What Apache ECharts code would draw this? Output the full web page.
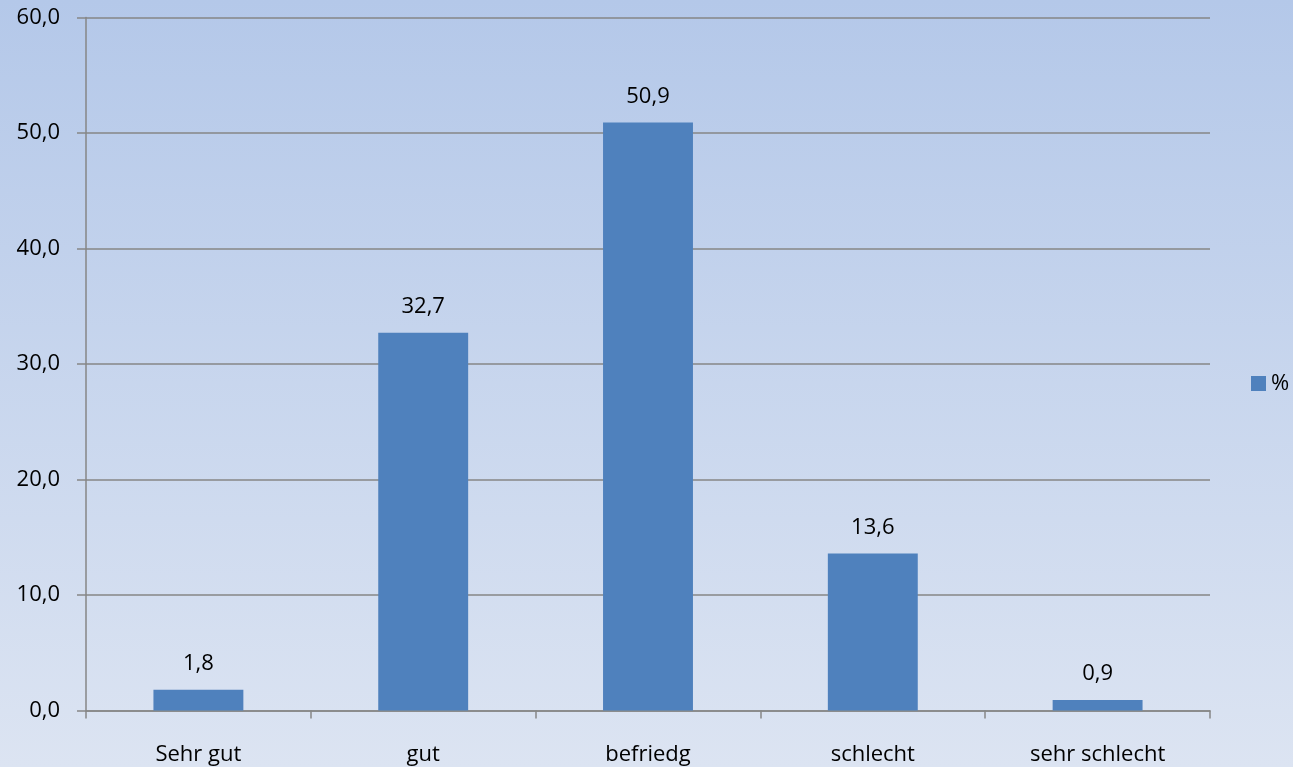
<!DOCTYPE html>
<html><head><meta charset="utf-8">
<script src="https://cdn.jsdelivr.net/npm/echarts@6/dist/echarts.min.js"></script>
<style>html,body{margin:0;padding:0;}#c{width:1293px;height:767px;}</style>
</head><body><div id="c"></div>
<script>
const categories = ['Sehr gut', 'gut', 'befriedg', 'schlecht', 'sehr schlecht'];
const values = [1.8, 32.7, 50.9, 13.6, 0.9];
const seriesName = '%';
const fmt = v => v.toFixed(1).replace('.', ',');
const FONT = 'Open Sans';
const FS = 22;
const chart = echarts.init(document.getElementById('c'));
chart.setOption({
  animation: false,
  backgroundColor: new echarts.graphic.LinearGradient(0, 0, 0, 1, [
    {offset: 0, color: '#b4c8e9'},
    {offset: 1, color: '#dce4f2'}
  ]),
  textStyle: {fontFamily: FONT},
  legend: {
    left: 1246, top: 'middle', orient: 'vertical',
    itemWidth: 15, itemHeight: 15, itemGap: 4,
    textStyle: {fontSize: FS, color: '#000', fontFamily: FONT},
    data: [{name: seriesName, icon: 'rect'}]
  },
  grid: {left: 86, right: 83, top: 17.5, bottom: 56.5, containLabel: false},
  xAxis: {
    type: 'category', data: categories,
    axisLine: {lineStyle: {color: '#868686', width: 1.5}},
    axisTick: {show: true, length: 8, alignWithLabel: false, lineStyle: {color: '#868686', width: 1.5}},
    axisLabel: {fontSize: FS, color: '#000', margin: 33, fontFamily: FONT}
  },
  yAxis: {
    type: 'value', min: 0, max: 60, interval: 10,
    axisLine: {show: true, lineStyle: {color: '#868686', width: 1.5}},
    axisTick: {show: true, length: 9, lineStyle: {color: '#868686', width: 1.5}},
    splitLine: {lineStyle: {color: '#868686', width: 1.5}},
    axisLabel: {fontSize: FS, color: '#000', margin: 26, formatter: fmt, fontFamily: FONT}
  },
  series: [{
    name: seriesName, type: 'bar', data: values, barWidth: '40%',
    itemStyle: {color: '#4f81bd'},
    label: {show: true, position: 'top', distance: 15, fontSize: FS, color: '#000', formatter: p => fmt(p.value), fontFamily: FONT}
  }]
});
</script></body></html>
